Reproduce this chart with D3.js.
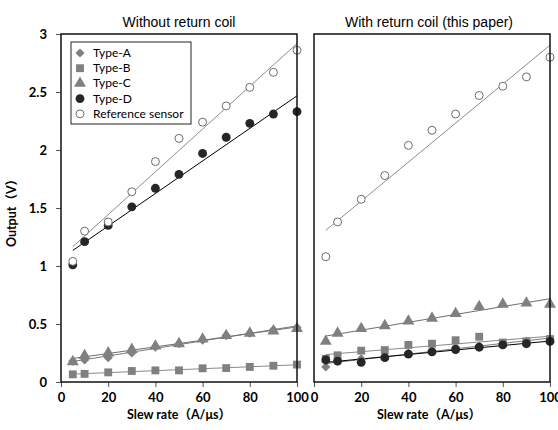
<!DOCTYPE html>
<html>
<head>
<meta charset="UTF-8">
<title>Output vs slew rate</title>
<style>
  body { margin: 0; background: #fff; }
  svg { display: block; }
  .tick text { font-family: Lato, "Open Sans", sans-serif; font-weight: bold; font-size: 13px; fill: #000; }
</style>
</head>
<body>
<svg width="558" height="430"></svg>
<script src="https://d3js.org/d3.v7.min.js"></script>
<script>
// slew rate (A/us)
const slew = [5, 10, 20, 30, 40, 50, 60, 70, 80, 90, 100];
const xTicks = [0, 20, 40, 60, 80, 100];
const yTicks = [0, 0.5, 1, 1.5, 2, 2.5, 3];
const titles = ["Without return coil", "With return coil (this paper)"];
const seriesNames = ["Type-A", "Type-B", "Type-C", "Type-D", "Reference sensor"];

// without return coil
const noCoilA = [0.18, 0.19, 0.21, 0.25, 0.30, 0.33, 0.36, 0.40, 0.42, 0.45, 0.47];
const noCoilB = [0.066, 0.07, 0.083, 0.095, 0.10, 0.10, 0.118, 0.12, 0.13, 0.14, 0.15];
const noCoilC = [0.175, 0.227, 0.25, 0.28, 0.31, 0.33, 0.37, 0.40, 0.42, 0.44, 0.46];
const noCoilD = [1.01, 1.21, 1.35, 1.51, 1.67, 1.79, 1.97, 2.11, 2.23, 2.31, 2.33];
const noCoilRef = [1.04, 1.30, 1.38, 1.64, 1.90, 2.10, 2.24, 2.38, 2.54, 2.67, 2.86];

// with return coil
const coilA = [0.13, 0.18, 0.20, 0.22, 0.25, 0.27, 0.30, 0.31, 0.33, 0.35, 0.37];
const coilB = [0.20, 0.23, 0.27, 0.275, 0.32, 0.33, 0.36, 0.39, 0.34, 0.35, 0.37];
const coilC = [0.35, 0.42, 0.46, 0.485, 0.525, 0.55, 0.59, 0.65, 0.67, 0.68, 0.67];
const coilD = [0.19, 0.18, 0.17, 0.21, 0.24, 0.26, 0.28, 0.30, 0.32, 0.33, 0.35];
const coilRef = [1.08, 1.38, 1.575, 1.78, 2.04, 2.17, 2.31, 2.47, 2.55, 2.63, 2.80];

const svg = d3.select("svg");

// marker look for each series (A, B, C, D, ref); diamond = square turned 45deg
const looks = [
  { sym: d3.symbolSquare, rot: 45, size: 42, fill: "#808080", stroke: "none", line: "#7a7a7a" },
  { sym: d3.symbolSquare, rot: 0, size: 62, fill: "#808080", stroke: "none", line: "#8a8a8a" },
  { sym: d3.symbolTriangle, rot: 0, size: 62, fill: "#808080", stroke: "none", line: "#6e6e6e" },
  { sym: d3.symbolCircle, rot: 0, size: 62, fill: "#262626", stroke: "none", line: "#000" },
  { sym: d3.symbolCircle, rot: 0, size: 50, fill: "#fff", stroke: "#6e6e6e", line: "#8c8c8c" }
];

const panels = [
  { x0: 61, x1: 297, data: [noCoilA, noCoilB, noCoilC, noCoilD, noCoilRef], yLabels: true, legend: true },
  { x0: 314, x1: 550, data: [coilA, coilB, coilC, coilD, coilRef], yLabels: false, legend: false }
];

const yTop = 34, yBot = 382;

// least squares trend line
function fit(xs, ys) {
  const mx = d3.mean(xs), my = d3.mean(ys);
  let sxy = 0, sxx = 0;
  xs.forEach((x, i) => { sxy += (x - mx) * (ys[i] - my); sxx += (x - mx) * (x - mx); });
  const b = sxy / sxx;
  return { a: my - b * mx, b: b };
}

panels.forEach((p, pi) => {
  const x = d3.scaleLinear().domain([0, 100]).range([p.x0, p.x1]);
  const y = d3.scaleLinear().domain([0, 3]).range([yBot, yTop]);
  const g = svg.append("g");

  // x axis
  const xa = g.append("g")
    .attr("transform", `translate(0,${yBot})`)
    .call(d3.axisBottom(x).tickValues(xTicks).tickSize(5).tickPadding(6));
  xa.select(".domain").remove();
  xa.selectAll(".tick line").attr("stroke", "#555");

  // y axis
  const ya = g.append("g")
    .attr("transform", `translate(${p.x0},0)`)
    .call(d3.axisLeft(y).tickValues(yTicks).tickFormat(d3.format("~g"))
      .tickSize(p.yLabels ? 5 : 0).tickPadding(9));
  ya.select(".domain").remove();
  ya.selectAll(".tick line").attr("stroke", "#555");
  if (!p.yLabels) ya.selectAll("text").remove();

  // trend lines
  const xs = [slew[0], slew[slew.length - 1]];
  p.data.forEach((vals, si) => {
    const f = fit(slew, vals);
    g.append("line")
      .attr("x1", x(xs[0])).attr("y1", y(f.a + f.b * xs[0]))
      .attr("x2", x(xs[1])).attr("y2", y(f.a + f.b * xs[1]))
      .attr("stroke", looks[si].line)
      .attr("stroke-width", 1);
  });

  // markers
  p.data.forEach((vals, si) => {
    const lk = looks[si];
    g.selectAll(null)
      .data(vals)
      .enter()
      .append("path")
      .attr("d", d3.symbol().type(lk.sym).size(lk.size))
      .attr("transform", (d, i) => `translate(${x(slew[i])},${y(d)}) rotate(${lk.rot})`)
      .attr("fill", lk.fill)
      .attr("stroke", lk.stroke)
      .attr("stroke-width", 1);
  });

  // plot frame
  g.append("rect")
    .attr("x", p.x0).attr("y", yTop)
    .attr("width", p.x1 - p.x0).attr("height", yBot - yTop)
    .attr("fill", "none")
    .attr("stroke", "#111")
    .attr("stroke-width", 1.5);

  // title
  g.append("text")
    .attr("x", (p.x0 + p.x1) / 2 - (pi === 1 ? 3 : 0))
    .attr("y", 27)
    .attr("text-anchor", "middle")
    .attr("font-family", "Liberation Sans, Arial, sans-serif")
    .attr("font-size", 14)
    .text(titles[pi]);

  // x label
  g.append("text")
    .attr("x", (p.x0 + p.x1) / 2 - (pi === 1 ? 3 : 0))
    .attr("y", 419)
    .attr("text-anchor", "middle")
    .attr("font-family", "Lato, 'Noto Sans CJK JP', sans-serif")
    .attr("font-weight", "bold")
    .attr("font-size", 12.5)
    .text("Slew rate（A/μs）");

  if (p.legend) {
    const lg = g.append("g").attr("transform", "translate(71,42)");
    lg.append("rect")
      .attr("width", 120).attr("height", 82)
      .attr("fill", "#fff")
      .attr("stroke", "#222")
      .attr("stroke-width", 1);
    seriesNames.forEach((name, si) => {
      const lk = looks[si];
      const cy = 11 + si * 15.2;
      lg.append("path")
        .attr("d", d3.symbol().type(lk.sym).size(lk.size))
        .attr("transform", `translate(9,${cy}) rotate(${lk.rot})`)
        .attr("fill", lk.fill)
        .attr("stroke", lk.stroke);
      lg.append("text")
        .attr("x", 22).attr("y", cy + 4)
        .attr("font-family", "Lato, sans-serif")
        .attr("font-size", 12)
        .text(name);
    });
  }
});

// y label
svg.append("text")
  .attr("transform", "translate(16,210) rotate(-90)")
  .attr("text-anchor", "middle")
  .attr("font-family", "Lato, 'Noto Sans CJK JP', sans-serif")
  .attr("font-weight", "bold")
  .attr("font-size", 12.5)
  .text("Output（V）");
</script>
</body>
</html>
